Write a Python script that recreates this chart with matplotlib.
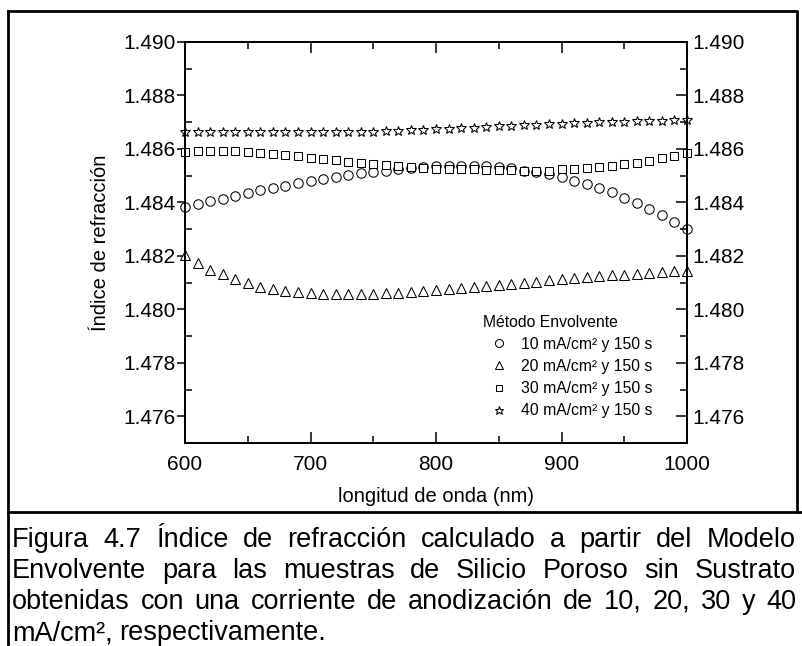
from matplotlib import pyplot as plt
from matplotlib import font_manager
from matplotlib.lines import Line2D
import numpy as np

# wavelength (nm)
wavelength = list(range(600, 1001, 10))

n_10 = [1.48382, 1.48393, 1.48405, 1.48414, 1.48424, 1.48435, 1.48445, 1.48454,
        1.48462, 1.48471, 1.48480, 1.48489, 1.48495, 1.48502, 1.48509, 1.48513,
        1.48517, 1.48524, 1.48530, 1.48533, 1.48535, 1.48536, 1.48536, 1.48536,
        1.48535, 1.48533, 1.48527, 1.48519, 1.48512, 1.48505, 1.48494, 1.48481,
        1.48468, 1.48453, 1.48438, 1.48418, 1.48397, 1.48377, 1.48352, 1.48325,
        1.48299]
n_20 = [1.48203, 1.48174, 1.48147, 1.48131, 1.48112, 1.48097, 1.48085, 1.48075,
        1.48070, 1.48064, 1.48060, 1.48057, 1.48056, 1.48056, 1.48056, 1.48057,
        1.48060, 1.48062, 1.48065, 1.48068, 1.48072, 1.48076, 1.48078, 1.48082,
        1.48087, 1.48091, 1.48095, 1.48100, 1.48103, 1.48110, 1.48112, 1.48116,
        1.48120, 1.48123, 1.48127, 1.48129, 1.48133, 1.48137, 1.48141, 1.48143,
        1.48144]
n_30 = [1.48590, 1.48593, 1.48593, 1.48593, 1.48591, 1.48587, 1.48583, 1.48581,
        1.48577, 1.48574, 1.48567, 1.48562, 1.48557, 1.48552, 1.48549, 1.48545,
        1.48541, 1.48536, 1.48531, 1.48529, 1.48526, 1.48525, 1.48524, 1.48524,
        1.48522, 1.48521, 1.48520, 1.48519, 1.48517, 1.48519, 1.48524, 1.48525,
        1.48530, 1.48532, 1.48536, 1.48542, 1.48548, 1.48556, 1.48565, 1.48574,
        1.48583]
n_40 = [1.48665, 1.48665, 1.48664, 1.48664, 1.48663, 1.48663, 1.48662, 1.48662,
        1.48662, 1.48662, 1.48662, 1.48662, 1.48663, 1.48663, 1.48664, 1.48665,
        1.48666, 1.48668, 1.48670, 1.48672, 1.48674, 1.48676, 1.48678, 1.48680,
        1.48682, 1.48684, 1.48686, 1.48688, 1.48690, 1.48692, 1.48694, 1.48696,
        1.48698, 1.48699, 1.48701, 1.48702, 1.48704, 1.48705, 1.48706, 1.48707,
        1.48708]

series_labels = ['10 mA/cm² y 150 s', '20 mA/cm² y 150 s',
                 '30 mA/cm² y 150 s', '40 mA/cm² y 150 s']

caption_lines = [
    'Figura 4.7 Índice de refracción calculado a partir del Modelo',
    'Envolvente para las muestras de Silicio Poroso sin Sustrato',
    'obtenidas con una corriente de anodización de 10, 20, 30 y 40',
    'mA/cm², respectivamente.',
]

W, H = 803, 646


def fx(px):
  return px / W


def fy(py):
  return 1 - py / H


def main():
  names = {f.name for f in font_manager.fontManager.ttflist}
  plt.rcParams['font.family'] = ['Liberation Sans', 'DejaVu Sans']
  cap_font = 'Liberation Sans Narrow' if 'Liberation Sans Narrow' in names \
      else 'Liberation Sans'

  fig = plt.figure(figsize=(W / 100, H / 100), dpi=100)
  ax = fig.add_axes([fx(185), fy(443), fx(687) - fx(185), fy(42) - fy(443)])

  style = dict(linestyle='none', markerfacecolor='white',
               markeredgecolor='black', markeredgewidth=0.75, clip_on=False)
  ax.plot(wavelength, n_10, marker='o', markersize=6.8, label=series_labels[0], **style)
  ax.plot(wavelength, n_20, marker='^', markersize=7.5, label=series_labels[1], **style)
  ax.plot(wavelength, n_30, marker='s', markersize=5.5, label=series_labels[2], **style)
  ax.plot(wavelength, n_40, marker='*', markersize=7.5, label=series_labels[3], **style)

  yt = np.arange(1.476, 1.4901, 0.002)
  yt_minor = np.arange(1.475, 1.4901, 0.002)

  ax.set_xlim(600, 1000)
  ax.set_ylim(1.475, 1.490)
  ax.set_xticks(np.arange(600, 1001, 100))
  ax.set_xticks(np.arange(650, 1000, 100), minor=True)
  ax.set_yticks(yt)
  ax.set_yticks(yt_minor, minor=True)
  ax.yaxis.set_major_formatter(plt.FormatStrFormatter('%.3f'))

  for s in ax.spines.values():
    s.set_linewidth(1.3)
  ax.tick_params(axis='both', which='both', labelsize=15, width=1.1)
  ax.tick_params(axis='x', which='both', direction='in', top=True, pad=9)
  ax.tick_params(axis='x', which='major', length=8)
  ax.tick_params(axis='x', which='minor', length=5)
  ax.tick_params(axis='y', which='major', direction='out', length=6, pad=1,
                 right=False)
  ax.tick_params(axis='y', which='minor', direction='in', length=5, right=False)

  # right axis: ticks pointing inwards, labels repeated
  ax2 = ax.twinx()
  ax2.set_ylim(ax.get_ylim())
  ax2.set_yticks(yt)
  ax2.set_yticks(yt_minor, minor=True)
  ax2.yaxis.set_major_formatter(plt.FormatStrFormatter('%.3f'))
  ax2.tick_params(axis='y', which='both', direction='in', labelsize=15,
                  width=1.1, pad=4)
  ax2.tick_params(axis='y', which='major', length=8)
  ax2.tick_params(axis='y', which='minor', length=5)
  for s in ax2.spines.values():
    s.set_linewidth(1.3)

  ax.set_xlabel('longitud de onda (nm)', fontsize=14.5)
  ax.xaxis.set_label_coords(0.5, -0.11)
  ax.set_ylabel('Índice de refracción', fontsize=14.5)
  ax.yaxis.set_label_coords(-0.15, 0.5)

  ax2.legend(*ax.get_legend_handles_labels(), title='Método Envolvente',
             frameon=False, fontsize=11.3, title_fontsize=11.3,
             alignment='left', loc='upper left',
             bbox_to_anchor=(fx(475), fy(307)),
             bbox_transform=fig.transFigure, borderpad=0,
             handlelength=2.0, handletextpad=0.45, labelspacing=0.45,
             markerscale=0.85)

  # outer frames
  lw = 2.0
  fig.add_artist(Line2D([fx(8), fx(797), fx(797)], [fy(11), fy(11), fy(512)],
                        color='black', lw=lw))
  fig.add_artist(Line2D([fx(8), fx(8)], [fy(11), fy(646)], color='black', lw=lw))
  fig.add_artist(Line2D([fx(8), fx(803)], [fy(512), fy(512)], color='black', lw=lw))

  # justified caption
  fig.canvas.draw()
  r = fig.canvas.get_renderer()
  x0, x1 = 12, 796
  baselines = [547, 578, 609, 640]
  for i, line in enumerate(caption_lines):
    words = line.split(' ')
    ts = [fig.text(0, 0, w, fontsize=19.5, family=cap_font) for w in words]
    ws = [t.get_window_extent(r).width for t in ts]
    if i < len(caption_lines) - 1:
      gap = (x1 - x0 - sum(ws)) / (len(words) - 1)
    else:
      gap = 6
    x = x0
    for t, w in zip(ts, ws):
      t.set_position((fx(x), fy(baselines[i])))
      x += w + gap

  fig.savefig('out.png', dpi=100)


if __name__ == '__main__':
  main()
